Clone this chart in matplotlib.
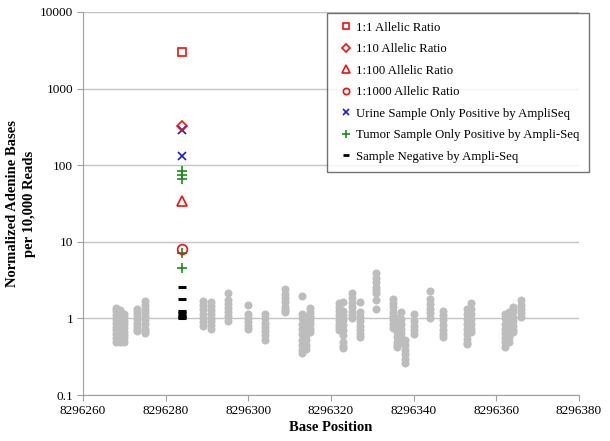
import matplotlib
matplotlib.use("Agg")
import matplotlib.pyplot as plt
from matplotlib.lines import Line2D

plt.rcParams["font.family"] = ["Liberation Serif", "DejaVu Serif"]

POS = 8296284  # position of the spiked sample

# spiked-in allelic ratios
ratio_1_1 = [3000]
ratio_1_10 = [325]
ratio_1_100 = [34]
ratio_1_1000 = [8.0]
# patient samples at the spiked position
urine_only = [288, 132]
tumor_only = [84, 74, 66, 7.2, 4.6]
negative = [2.56, 1.81, 1.27, 1.2, 1.14, 1.09, 1.04, 1.0]

# background (gray) columns: base position and values
gray_pos = [8296268, 8296269, 8296270, 8296273, 8296275,
            8296289, 8296291, 8296295, 8296300, 8296304, 8296309,
            8296313, 8296314, 8296315, 8296322, 8296323, 8296325, 8296327,
            8296331, 8296335, 8296336, 8296337, 8296338, 8296340,
            8296344, 8296347, 8296353, 8296354, 8296362, 8296363,
            8296364, 8296366]
gray_vals = [
    [1.39, 1.25, 1.1, 0.98, 0.88, 0.78, 0.7, 0.62, 0.55, 0.49],
    [1.31, 1.18, 1.05, 0.94, 0.84, 0.75, 0.66, 0.58, 0.52, 0.49],
    [1.16, 1.05, 0.94, 0.84, 0.75, 0.66, 0.6, 0.56, 0.49],
    [1.35, 1.22, 1.1, 0.98, 0.88, 0.79, 0.72, 0.68],
    [1.67, 1.5, 1.35, 1.2, 1.07, 0.95, 0.84, 0.74, 0.68, 0.64],
    [1.67, 1.5, 1.35, 1.15, 1.0, 0.9, 0.81],
    [1.62, 1.45, 1.3, 1.15, 1.02, 0.92, 0.82, 0.74],
    [2.12, 1.72, 1.55, 1.38, 1.22, 1.08, 0.94],
    [1.48, 1.13, 1.0, 0.9, 0.8, 0.72],
    [1.13, 1.0, 0.88, 0.78, 0.69, 0.61, 0.53],
    [2.39, 2.1, 1.85, 1.62, 1.42, 1.28, 1.2],
    [1.94, 1.16, 1.0, 0.86, 0.74, 0.63, 0.53, 0.45, 0.39, 0.35],
    [1.05, 0.92, 0.8, 0.7, 0.6, 0.52, 0.45, 0.4],
    [1.39, 1.22, 1.08, 0.95, 0.84, 0.74, 0.66],
    [1.57, 1.4, 1.25, 1.1, 0.97, 0.86, 0.77, 0.7],
    [1.62, 1.27, 1.1, 0.95, 0.82, 0.7, 0.6, 0.5, 0.44, 0.41],
    [2.12, 1.85, 1.6, 1.4, 1.22, 1.1, 1.03],
    [1.62, 1.2, 1.05, 0.92, 0.8, 0.7, 0.62, 0.58],
    [3.87, 3.4, 3.0, 2.6, 2.35, 2.18, 1.72, 1.35],
    [1.82, 1.6, 1.4, 1.22, 1.07, 0.95, 0.84, 0.76],
    [1.0, 0.88, 0.76, 0.66, 0.57, 0.5, 0.45, 0.42],
    [1.23, 0.98, 0.85, 0.74, 0.64, 0.56, 0.49],
    [0.52, 0.45, 0.39, 0.34, 0.3, 0.26],
    [1.16, 0.92, 0.8, 0.7, 0.62],
    [2.25, 1.77, 1.55, 1.35, 1.18, 1.03],
    [1.27, 1.1, 0.95, 0.82, 0.7, 0.62, 0.58],
    [1.35, 1.15, 0.98, 0.84, 0.72, 0.62, 0.54, 0.48, 0.46],
    [1.57, 1.35, 1.15, 0.98, 0.85, 0.74, 0.66],
    [1.16, 1.0, 0.86, 0.74, 0.64, 0.56, 0.49, 0.43],
    [1.2, 1.03, 0.88, 0.76, 0.66, 0.57, 0.49],
    [1.43, 1.24, 1.06, 0.92, 0.8, 0.7, 0.66],
    [1.72, 1.5, 1.32, 1.18, 1.06],
]

x_ticks = [8296260, 8296280, 8296300, 8296320, 8296340, 8296360, 8296380]
y_ticks = [0.1, 1, 10, 100, 1000, 10000]
y_ticklabels = ["0.1", "1", "10", "100", "1000", "10000"]

RED = "#ee1111"

fig = plt.figure(figsize=(6.1, 4.41), dpi=100)
ax = fig.add_axes([0.136, 0.104, 0.813, 0.869])

for p, vals in zip(gray_pos, gray_vals):
    ax.plot([p] * len(vals), vals, linestyle="none", marker="o",
            markersize=5.8, color="#bdbdbd", markeredgewidth=0, zorder=2)

ax.plot([POS] * len(negative), negative, linestyle="none", marker="_",
        markersize=6, markeredgewidth=2.2, color="black", zorder=3)
ax.plot([POS] * len(tumor_only), tumor_only, linestyle="none", marker="+",
        markersize=7, markeredgewidth=1.2, color="#1a8c1a", zorder=4)
ax.plot([POS] * len(urine_only), urine_only, linestyle="none", marker="x",
        markersize=6, markeredgewidth=1.2, color="#1a1adc", zorder=4)
ax.plot([POS], ratio_1_1, linestyle="none", marker="s", markersize=6,
        markerfacecolor="none", markeredgecolor=RED, markeredgewidth=1.2, zorder=5)
ax.plot([POS], ratio_1_10, linestyle="none", marker="D", markersize=5.5,
        markerfacecolor="none", markeredgecolor=RED, markeredgewidth=1.2, zorder=5)
ax.plot([POS], ratio_1_100, linestyle="none", marker="^", markersize=7.5,
        markerfacecolor="none", markeredgecolor=RED, markeredgewidth=1.2, zorder=5)
ax.plot([POS], ratio_1_1000, linestyle="none", marker="o", markersize=7,
        markerfacecolor="none", markeredgecolor=RED, markeredgewidth=1.2, zorder=5)

ax.set_yscale("log")
ax.set_ylim(0.1, 10000)
ax.set_xlim(8296260, 8296380)
ax.set_xticks(x_ticks)
ax.set_xticklabels([str(t) for t in x_ticks])
ax.set_yticks(y_ticks)
ax.set_yticklabels(y_ticklabels)
ax.yaxis.set_minor_locator(matplotlib.ticker.NullLocator())
ax.grid(axis="y", color="#c4c4c4", linewidth=1.0, zorder=0)
ax.set_axisbelow(True)
for s in ["top", "right"]:
    ax.spines[s].set_visible(False)
for s in ["left", "bottom"]:
    ax.spines[s].set_color("#a0a0a0")
ax.tick_params(colors="#a0a0a0", labelcolor="black", labelsize=9.5, length=4, pad=3)

ax.set_xlabel("Base Position", fontsize=10.5, fontweight="bold", labelpad=3)
ax.set_ylabel("Normalized Adenine Bases\nper 10,000 Reads", fontsize=10.5,
              fontweight="bold", labelpad=3, linespacing=1.35)

handles = [
    Line2D([], [], linestyle="none", marker="s", markersize=4.5, markerfacecolor="none",
           markeredgecolor=RED, markeredgewidth=1.2),
    Line2D([], [], linestyle="none", marker="D", markersize=4.5, markerfacecolor="none",
           markeredgecolor=RED, markeredgewidth=1.2),
    Line2D([], [], linestyle="none", marker="^", markersize=5.5, markerfacecolor="none",
           markeredgecolor=RED, markeredgewidth=1.2),
    Line2D([], [], linestyle="none", marker="o", markersize=4.5, markerfacecolor="none",
           markeredgecolor=RED, markeredgewidth=1.2),
    Line2D([], [], linestyle="none", marker="x", markersize=4.5, markeredgewidth=1.2,
           color="#1a1adc"),
    Line2D([], [], linestyle="none", marker="+", markersize=6, markeredgewidth=1.2,
           color="#1a8c1a"),
    Line2D([], [], linestyle="none", marker="_", markersize=5, markeredgewidth=2,
           color="black"),
]
labels = ["1:1 Allelic Ratio", "1:10 Allelic Ratio", "1:100 Allelic Ratio",
          "1:1000 Allelic Ratio", "Urine Sample Only Positive by AmpliSeq",
          "Tumor Sample Only Positive by Ampli-Seq", "Sample Negative by Ampli-Seq"]
leg = fig.legend(handles, labels, loc="upper left", bbox_to_anchor=(327 / 610, 1 - 13 / 441),
                 fontsize=9.2, frameon=True, fancybox=False, edgecolor="#505050",
                 handlelength=1.5, handletextpad=0.1, labelspacing=0.74,
                 borderpad=0.7, borderaxespad=0)
leg.get_frame().set_linewidth(1.0)

fig.savefig("out.png", dpi=100)
